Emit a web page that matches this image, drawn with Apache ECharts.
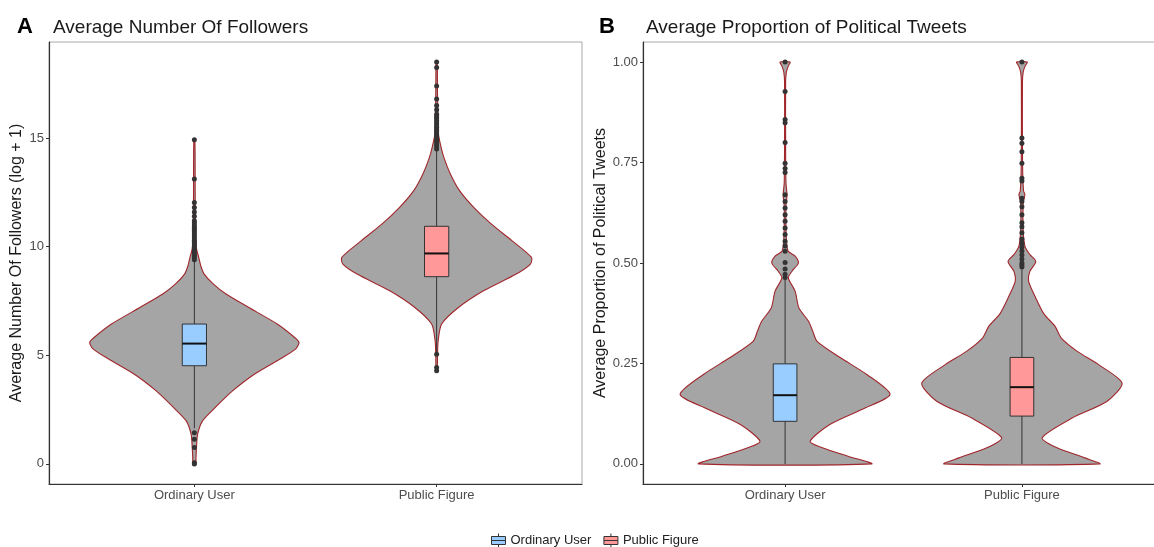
<!DOCTYPE html>
<html><head><meta charset="utf-8">
<script src="https://cdn.jsdelivr.net/npm/echarts@6/dist/echarts.min.js"></script>
<style>html,body{margin:0;padding:0;background:#fff}#c{width:1154px;height:547px}</style>
</head><body><div id="c"></div>
<script>
const categories = ['Ordinary User', 'Public Figure'];
const followersTicks = [0, 5, 10, 15];
const proportionTicks = [0, 0.25, 0.5, 0.75, 1];

// violin outlines: [value, relative half-width 0..1]
const followersViolinOrdinary = [
  [14.93,0.005],[12.0,0.008],[10.5,0.012],[9.9,0.02],[9.51,0.04],[9.1,0.06],[8.74,0.09],[8.3,0.17],
  [7.82,0.29],[7.2,0.50],[6.44,0.76],[5.82,0.92],[5.59,0.96],[5.3,0.93],[4.9,0.81],[4.13,0.55],
  [3.36,0.35],[2.59,0.19],[1.98,0.075],[1.37,0.03],[0.8,0.02],[0.3,0.015],[0.0,0.012]
];
const followersViolinPublic = [
  [18.5,0.005],[17.0,0.008],[16.0,0.012],[15.2,0.016],[14.6,0.04],[14.1,0.067],[13.35,0.126],
  [12.58,0.21],[11.81,0.34],[11.05,0.50],[10.28,0.69],[9.51,0.87],[9.2,0.86],[8.74,0.73],
  [7.97,0.43],[7.2,0.20],[6.44,0.046],[5.67,0.014],[5.0,0.008],[4.29,0.005]
];
const proportionViolinOrdinary = [
  [1.0,0.047],[0.99,0.03],[0.975,0.012],[0.95,0.005],[0.8,0.005],[0.7,0.008],[0.67,0.018],[0.64,0.008],
  [0.56,0.012],[0.53,0.028],[0.517,0.094],[0.5,0.125],[0.479,0.063],[0.463,0.03],[0.43,0.094],
  [0.388,0.13],[0.355,0.22],[0.33,0.26],[0.305,0.30],[0.264,0.52],[0.222,0.77],[0.173,0.985],
  [0.139,0.75],[0.098,0.42],[0.056,0.235],[0.04,0.35],[0.019,0.59],[0.0,0.81]
];
const proportionViolinPublic = [
  [1.0,0.05],[0.99,0.03],[0.975,0.012],[0.95,0.005],[0.75,0.006],[0.68,0.015],[0.67,0.028],[0.65,0.012],
  [0.58,0.012],[0.54,0.03],[0.521,0.075],[0.504,0.13],[0.479,0.075],[0.454,0.063],[0.413,0.13],
  [0.372,0.21],[0.343,0.31],[0.313,0.37],[0.28,0.52],[0.247,0.72],[0.201,0.94],[0.156,0.80],
  [0.114,0.47],[0.065,0.19],[0.04,0.33],[0.015,0.59],[0.0,0.73]
];

// box stats: [lower whisker, Q1, median, Q3, upper whisker]
const followersBoxOrdinary = [1.64, 4.52, 5.54, 6.44, 9.32];
const followersBoxPublic = [5.14, 8.62, 9.69, 10.94, 14.42];
const proportionBoxOrdinary = [0, 0.106, 0.171, 0.249, 0.464];
const proportionBoxPublic = [0, 0.119, 0.191, 0.265, 0.484];

// outliers
const followersOutliersOrdinary = [14.93,13.12,12.04,11.8,11.6,11.4,11.2,11.1,11.0,10.9,10.8,10.7,10.6,10.5,10.4,10.3,10.2,10.1,10.0,9.9,9.8,9.7,9.6,9.5,9.4,1.44,1.14,0.75,0.05,0.0];
const followersOutliersPublic = [18.5,18.25,17.4,16.8,16.5,16.3,16.1,16.0,15.9,15.8,15.7,15.6,15.5,15.4,15.3,15.2,15.1,15.0,14.9,14.8,14.7,14.6,14.5,5.05,4.44,4.29];
const proportionOutliersOrdinary = [1.0,0.927,0.857,0.849,0.80,0.748,0.735,0.725,0.67,0.653,0.637,0.62,0.604,0.587,0.571,0.554,0.542,0.529,0.501,0.485,0.472,0.464];
const proportionOutliersPublic = [1.0,0.811,0.798,0.777,0.748,0.711,0.704,0.661,0.653,0.64,0.62,0.60,0.59,0.575,0.56,0.55,0.54,0.53,0.52,0.51,0.50,0.495,0.49];

const VIOLIN_HALF = 0.45, BOX_HALF = 0.05;
const FONT = 'Liberation Sans, Arial, sans-serif';
const boxColors = {'Ordinary User': '#99CCFF', 'Public Figure': '#FF9999'};

function violinSeries(axis, profiles) {
  return {
    type: 'custom', xAxisIndex: axis, yAxisIndex: axis, z: 1, silent: true,
    data: profiles.map((p, i) => [i + 1, p[0][0]]),
    encode: {x: 0, y: 1},
    renderItem(params, api) {
      const prof = profiles[params.dataIndex];
      const cat = api.value(0);
      const unit = api.size([1, 0])[0];
      const c = api.coord([cat, 0])[0];
      const right = [], left = [];
      prof.forEach(([v, w]) => {
        const y = api.coord([cat, v])[1];
        right.push([c + w * VIOLIN_HALF * unit, y]);
        left.push([c - w * VIOLIN_HALF * unit, y]);
      });
      return {type: 'polygon', shape: {points: right.concat(left.reverse()), smooth: 0.25},
        style: {fill: '#A5A5A5', stroke: '#A0262B', lineWidth: 1.1}};
    }
  };
}
function boxSeries(axis, name, cat, stats) {
  return {
    type: 'custom', name: name, xAxisIndex: axis, yAxisIndex: axis, z: 3, silent: true,
    data: [[cat].concat(stats)],
    encode: {x: 0, y: [1, 2, 3, 4, 5]},
    renderItem(params, api) {
      const x = api.value(0);
      const unit = api.size([1, 0])[0];
      const half = BOX_HALF * unit;
      const p = k => api.coord([x, api.value(k)]);
      const lo = p(1), q1 = p(2), med = p(3), q3 = p(4), hi = p(5);
      const cx = lo[0];
      return {type: 'group', children: [
        {type: 'line', shape: {x1: cx, y1: lo[1], x2: cx, y2: q1[1]}, style: {stroke: '#333', lineWidth: 1}},
        {type: 'line', shape: {x1: cx, y1: q3[1], x2: cx, y2: hi[1]}, style: {stroke: '#333', lineWidth: 1}},
        {type: 'rect', shape: {x: cx - half, y: q3[1], width: 2 * half, height: q1[1] - q3[1]},
          style: {fill: boxColors[name], stroke: '#333', lineWidth: 1}},
        {type: 'line', shape: {x1: cx - half, y1: med[1], x2: cx + half, y2: med[1]}, style: {stroke: '#111', lineWidth: 2}}
      ]};
    }
  };
}
function outlierSeries(axis, cat, vals) {
  return {type: 'scatter', xAxisIndex: axis, yAxisIndex: axis, z: 4, silent: true,
    symbol: 'circle', symbolSize: 5, itemStyle: {color: '#333', opacity: 1},
    data: vals.map(v => [cat, v])};
}
function xAxis(grid) {
  return {type: 'value', gridIndex: grid, min: 0.4, max: 2.6,
    axisLine: {show: true, onZero: false, lineStyle: {color: '#333', width: 1.2}},
    axisTick: {show: true, customValues: [1, 2], length: 3, lineStyle: {color: '#333'}},
    axisLabel: {customValues: [1, 2], formatter: v => categories[Math.round(v) - 1], color: '#4D4D4D', fontSize: 13, fontFamily: FONT, margin: 5},
    splitLine: {show: false}};
}
function yAxis(grid, min, max, ticks, name, gap, fmt) {
  return {type: 'value', gridIndex: grid, min: min, max: max,
    name: name, nameLocation: 'middle', nameGap: gap, nameRotate: 90,
    nameTextStyle: {fontSize: 16, color: '#1A1A1A', fontFamily: FONT},
    axisLine: {show: true, onZero: false, lineStyle: {color: '#333', width: 1.2}},
    axisTick: {show: true, customValues: ticks, length: 3, lineStyle: {color: '#333'}},
    axisLabel: {customValues: ticks, formatter: fmt, color: '#4D4D4D', fontSize: 13, fontFamily: FONT, margin: 5},
    splitLine: {show: false}};
}
const legendIcon = 'path://M0,3 L14,3 L14,11 L0,11 Z M0,7 L14,7 M7,0 L7,3 M7,11 L7,14';

const chart = echarts.init(document.getElementById('c'), null, {renderer: 'canvas'});
chart.setOption({
  animation: false,
  backgroundColor: '#fff',
  title: [
    {text: 'A', left: 12, top: 11, textStyle: {fontSize: 22, fontWeight: 'bold', color: '#000', fontFamily: FONT}},
    {text: 'Average Number Of Followers', left: 48, top: 13, textStyle: {fontSize: 19, fontWeight: 'normal', color: '#1A1A1A', fontFamily: FONT}},
    {text: 'B', left: 594, top: 11, textStyle: {fontSize: 22, fontWeight: 'bold', color: '#000', fontFamily: FONT}},
    {text: 'Average Proportion of Political Tweets', left: 641, top: 13, textStyle: {fontSize: 19, fontWeight: 'normal', color: '#1A1A1A', fontFamily: FONT}}
  ],
  legend: {
    left: 486, top: 528, itemWidth: 14, itemHeight: 14, itemGap: 12, selectedMode: false,
    textStyle: {fontSize: 13, color: '#222', fontFamily: FONT},
    data: categories.map(c => ({name: c, icon: legendIcon, itemStyle: {color: boxColors[c], borderColor: '#333', borderWidth: 1}}))
  },
  grid: [
    {left: 49, top: 42, width: 533, height: 442, show: true, borderColor: '#A8A8A8', borderWidth: 1, containLabel: false, outerBoundsMode: 'none'},
    {left: 643, top: 42, width: 521, height: 442, show: true, borderColor: '#A8A8A8', borderWidth: 1, containLabel: false, outerBoundsMode: 'none'}
  ],
  xAxis: [xAxis(0), xAxis(1)],
  yAxis: [
    yAxis(0, -0.925, 19.425, followersTicks, 'Average Number Of Followers (log + 1)', 24, v => String(v)),
    yAxis(1, -0.05, 1.05, proportionTicks, 'Average Proportion of Political Tweets', 33, v => v.toFixed(2))
  ],
  series: [
    violinSeries(0, [followersViolinOrdinary, followersViolinPublic]),
    violinSeries(1, [proportionViolinOrdinary, proportionViolinPublic]),
    boxSeries(0, 'Ordinary User', 1, followersBoxOrdinary),
    boxSeries(0, 'Public Figure', 2, followersBoxPublic),
    boxSeries(1, 'Ordinary User', 1, proportionBoxOrdinary),
    boxSeries(1, 'Public Figure', 2, proportionBoxPublic),
    outlierSeries(0, 1, followersOutliersOrdinary),
    outlierSeries(0, 2, followersOutliersPublic),
    outlierSeries(1, 1, proportionOutliersOrdinary),
    outlierSeries(1, 2, proportionOutliersPublic)
  ]
});
</script></body></html>
